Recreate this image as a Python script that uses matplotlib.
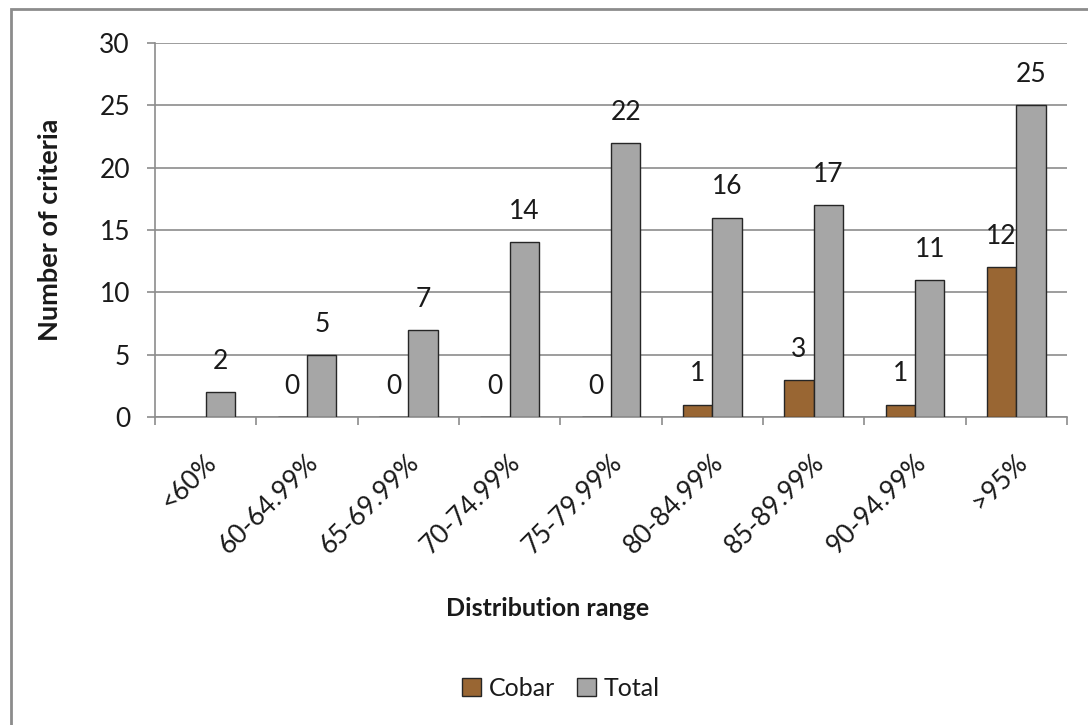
import matplotlib
matplotlib.use("Agg")
import matplotlib.pyplot as plt
import matplotlib.transforms as mtrans
from matplotlib.patches import Rectangle, Patch
import numpy as np

categories = ["<60%", "60-64.99%", "65-69.99%", "70-74.99%", "75-79.99%",
              "80-84.99%", "85-89.99%", "90-94.99%", ">95%"]
cobar = [None, 0, 0, 0, 0, 1, 3, 1, 12]
total = [2, 5, 7, 14, 22, 16, 17, 11, 25]
yticks = [0, 5, 10, 15, 20, 25, 30]

plt.rcParams['font.family'] = ['Lato', 'DejaVu Sans']

W, H = 1088, 725
fig = plt.figure(figsize=(W / 100, H / 100), dpi=100)
ax = fig.add_axes([155 / W, 1 - 417 / H, (1067 - 155) / W, (417 - 43) / H])

x = np.arange(len(categories))
bw = 0.287
off = 0.145
brown = "#996633"
grey = "#a6a6a6"
edge = "#262626"
txt = "#1a1a1a"

cob_vals = [np.nan if v is None else v for v in cobar]
ax.bar(x - off, cob_vals, bw, color=brown, edgecolor=edge, linewidth=1.0, zorder=3)
ax.bar(x + off, total, bw, color=grey, edgecolor=edge, linewidth=1.0, zorder=3)

lab_kw = dict(textcoords="offset points", ha="center", va="center",
              fontsize=19, color=txt)
for xi, v in zip(x, cobar):
    if v is not None:
        ax.annotate(str(v), (xi - off, v), xytext=(0, 22), **lab_kw)
for xi, v in zip(x, total):
    ax.annotate(str(v), (xi + off, v), xytext=(0, 22), **lab_kw)

ax.set_xlim(-0.5, len(categories) - 0.5)
ax.set_ylim(0, 30)
ax.set_yticks(yticks)
ax.set_yticklabels([str(t) for t in yticks], fontsize=19, color=txt)
ax.yaxis.grid(True, color="#8c8c8c", linewidth=1.2, zorder=0)
ax.set_axisbelow(True)

# major ticks at category boundaries, labels at centres
ax.set_xticks(np.arange(len(categories) + 1) - 0.5)
ax.set_xticklabels([])
ax.set_xticks(x, minor=True)
ax.set_xticklabels(categories, minor=True, rotation=45, ha="right",
                   va="center", rotation_mode="anchor", fontsize=19,
                   color=txt)
ax.tick_params(axis="x", which="minor", length=0, pad=30)
ax.tick_params(axis="x", which="major", length=6, width=1.2, color="#8c8c8c")
ax.tick_params(axis="y", length=6, width=1.2, color="#8c8c8c", pad=12)
shift = mtrans.ScaledTranslation(7 / 100, 0, fig.dpi_scale_trans)
for lbl in ax.get_xticklabels(minor=True):
    lbl.set_transform(lbl.get_transform() + shift)

for s in ["top", "right"]:
    ax.spines[s].set_visible(False)
for s in ["left", "bottom"]:
    ax.spines[s].set_color("#8c8c8c")
    ax.spines[s].set_linewidth(1.2)

fig.text(50 / W, 1 - 230 / H, "Number of criteria", rotation=90,
         ha="center", va="center", fontsize=19.5, fontweight="bold", color=txt)
fig.text(548 / W, 1 - 608 / H, "Distribution range", ha="center", va="center",
         fontsize=18, fontweight="bold", color=txt)

handles = [Patch(facecolor=brown, edgecolor=edge, linewidth=1.0, label="Cobar"),
           Patch(facecolor=grey, edgecolor=edge, linewidth=1.0, label="Total")]
fig.legend(handles=handles, loc="center", bbox_to_anchor=(561 / W, 1 - 688 / H),
           ncol=2, frameon=False, fontsize=18, handlelength=0.75, handleheight=0.75,
           handletextpad=0.3, columnspacing=0.9, labelcolor=txt)

fig.add_artist(Rectangle((11 / W, -0.05), 1.2, (725 - 9) / H + 0.05,
                         transform=fig.transFigure, fill=False,
                         edgecolor="#8c8c8c", linewidth=2.0, clip_on=False))

fig.savefig("out.png", dpi=100)
